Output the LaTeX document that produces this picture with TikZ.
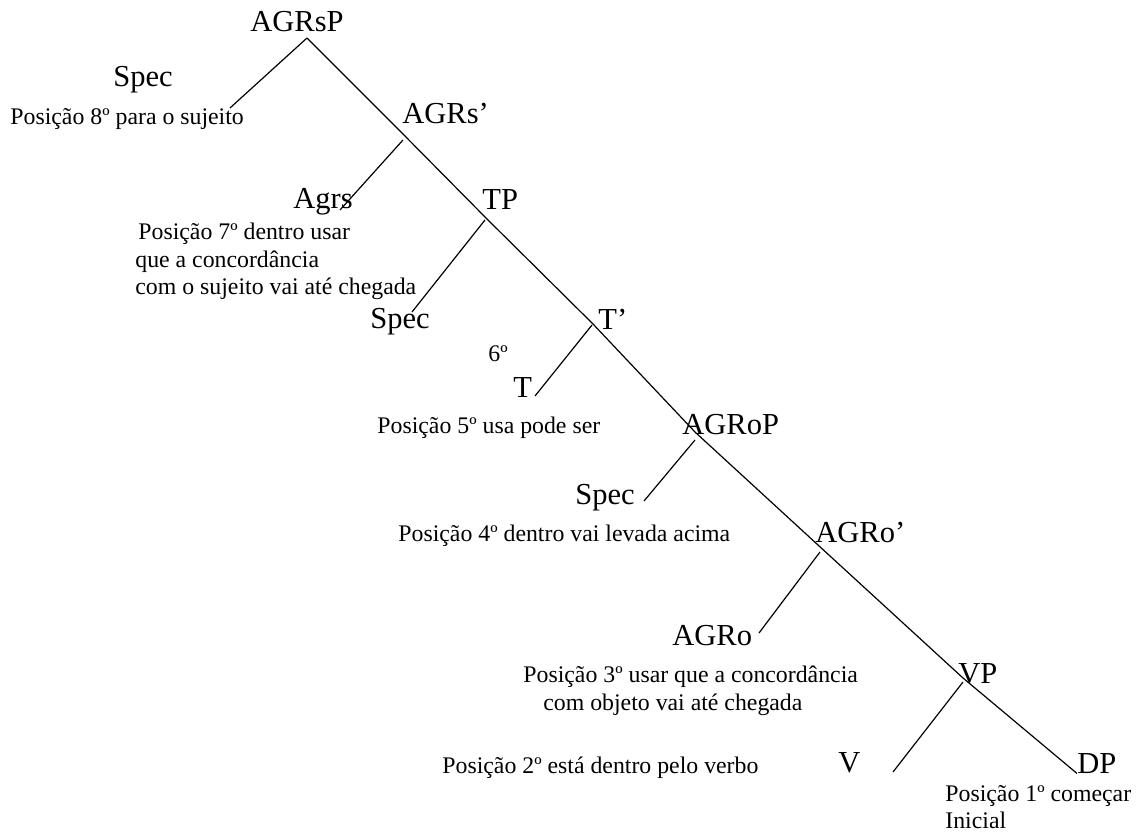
\documentclass[tikz,border=0pt]{standalone}
\usepackage{fontspec}
\setmainfont{Liberation Serif}

\tikzset{
  cat/.style={inner sep=0pt, anchor=base west, font=\fontsize{15.25}{18}\selectfont},
  note/.style={inner sep=0pt, anchor=base west, font=\fontsize{11.9}{13.8}\selectfont},
  para/.style={inner sep=0pt, anchor=north west, align=left, font=\fontsize{11.9}{13.8}\selectfont},
  branch/.style={line width=0.6pt}
}

\begin{document}
\begin{tikzpicture}[x=0.5pt, y=-0.5pt]
    \useasboundingbox (0,0) rectangle (1142,835);
    % labels
    \node[cat]  (agrsp)    at (250,32)  {AGRsP};
    \node[cat]  (spec-s)   at (113,86)  {Spec};
    \node[note] (pos-8)    at (10,124)  {Posição 8º para o sujeito};
    \node[cat]  (agrs-bar) at (402,123) {AGRs’};
    \node[cat]  (agrs)     at (293,208) {Agrs};
    \node[para] (pos-7)    at (135,222.7) {\hspace*{1.5pt}Posição 7º dentro usar\\ que a concordância\\ com o sujeito vai até chegada};
    \node[cat]  (tp)       at (482,209) {TP};
    \node[cat]  (spec-t)   at (370,328) {Spec};
    \node[cat]  (t-bar)    at (598,329) {T’};
    \node[note] (sixth)    at (488,361) {6º};
    \node[cat]  (t)        at (513,397) {T};
    \node[note] (pos-5)    at (377,433) {Posição 5º usa pode ser};
    \node[cat]  (agrop)    at (682,434) {AGRoP};
    \node[cat]  (spec-o)   at (575,504) {Spec};
    \node[note] (pos-4)    at (398,541) {Posição 4º dentro vai levada acima};
    \node[cat]  (agro-bar) at (815,542) {AGRo’};
    \node[cat]  (agro)     at (672,645) {AGRo};
    \node[para] (pos-3)    at (523,665.7) {Posição 3º usar que a concordância\\ \hspace*{10pt}com objeto vai até chegada};
    \node[cat]  (vp)       at (958,683) {VP};
    \node[cat]  (v)        at (838,772) {V};
    \node[note] (pos-2)    at (442,773) {Posição 2º está dentro pelo verbo};
    \node[cat]  (dp)       at (1077,773) {DP};
    \node[para] (pos-1)    at (945,784.7) {Posição 1º começar\\ Inicial};
    % spine points
    \coordinate (s0) at (307,38);
    \coordinate (s1) at (400,131);
    \coordinate (s2) at (487,219);
    \coordinate (s3) at (593,324);
    \coordinate (s4) at (695,432);
    \coordinate (s5) at (818,545);
    \coordinate (s6) at (963,678);
    % left branches
    \coordinate (b1) at (403,140);
    \coordinate (b2) at (485,220);
    \coordinate (b3) at (592,325);
    \coordinate (b4) at (695,440);
    \coordinate (b5) at (820,552);
    \coordinate (b6) at (963,682);
    \coordinate (e0) at (230,108);
    \coordinate (e1) at (340,210);
    \coordinate (e2) at (412,312);
    \coordinate (e3) at (535,396);
    \coordinate (e4) at (644,501);
    \coordinate (e5) at (759,633);
    \coordinate (e6) at (893,772);
    \draw[branch] (s0) -- (s1) -- (s2) -- (s3) -- (s4) -- (s5) -- (s6) -- (dp.south west);
    \draw[branch]
        (s0) edge (e0)
        (b1) edge (e1)
        (b2) edge (e2)
        (b3) edge (e3)
        (b4) edge (e4)
        (b5) edge (e5)
        (b6) edge (e6);
\end{tikzpicture}
\end{document}
